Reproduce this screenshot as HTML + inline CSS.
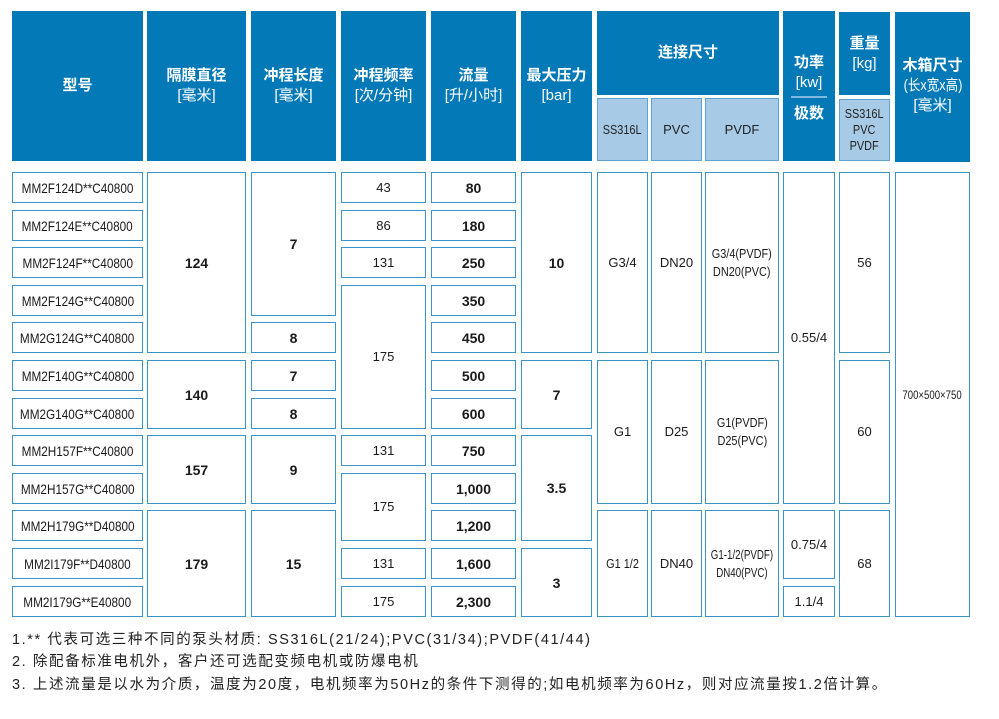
<!DOCTYPE html>
<html><head><meta charset="utf-8"><style>
body{margin:0;width:999px;height:719px;background:#fff;position:relative;overflow:hidden;font-family:"Liberation Sans","Noto Sans CJK SC",sans-serif;color:#1a1a1a}
.h{position:absolute;background:#0379b8;color:#fff;font-weight:bold;font-size:15px;display:flex;flex-direction:column;align-items:center;justify-content:center;text-align:center;line-height:20px}
.h span{font-weight:normal}
.s{position:absolute;background:#a7cbe7;border:1px solid #5fa3d3;box-sizing:border-box;color:#222;font-size:13px;display:flex;align-items:center;justify-content:center;text-align:center;line-height:16px}
.b{position:absolute;box-sizing:border-box;border:1.5px solid #3a93c9;display:flex;align-items:center;justify-content:center;text-align:center;font-size:13px;line-height:18px;white-space:nowrap}
.c{display:inline-block;transform:scaleX(.84);transform-origin:center}
.m{font-size:14px}
.bd{font-weight:bold;font-size:14px}
.n{position:absolute;left:12px;font-size:14.5px;color:#222;letter-spacing:1.6px;white-space:nowrap}
</style></head><body>
<div class="h" style="left:12px;top:11px;width:131px;height:150px">型号</div>
<div class="h" style="left:147px;top:11px;width:99px;height:150px">隔膜直径<span>[毫米]</span></div>
<div class="h" style="left:251px;top:11px;width:85px;height:150px">冲程长度<span>[毫米]</span></div>
<div class="h" style="left:341px;top:11px;width:85px;height:150px">冲程频率<span>[次/分钟]</span></div>
<div class="h" style="left:431px;top:11px;width:85px;height:150px">流量<span>[升/小时]</span></div>
<div class="h" style="left:521px;top:11px;width:71px;height:150px">最大压力<span>[bar]</span></div>
<div class="h" style="left:597px;top:11px;width:182px;height:84px">连接尺寸</div>
<div class="s" style="left:597px;top:98px;width:51px;height:63px"><span class="c">SS316L</span></div>
<div class="s" style="left:651px;top:98px;width:51px;height:63px">PVC</div>
<div class="s" style="left:705px;top:98px;width:74px;height:63px">PVDF</div>
<div class="h" style="left:783px;top:11px;width:52px;height:150px;justify-content:flex-start"><div style="margin-top:42px">功率</div><span>[kw]</span><div style="width:36px;height:2px;background:#7fb8de;margin:3px 0 6px"></div><div>极数</div></div>
<div class="h" style="left:839px;top:12px;width:51px;height:83px">重量<span>[kg]</span></div>
<div class="s" style="left:839px;top:99px;width:51px;height:62px;font-size:13px;line-height:16px"><span class="c">SS316L<br>PVC<br>PVDF</span></div>
<div class="h" style="left:895px;top:12px;width:75px;height:150px;justify-content:flex-start"><div style="margin-top:44px">木箱尺寸</div><span class="c">(长x宽x高)</span><span>[毫米]</span></div>

<div class="b m" style="left:12px;top:172px;width:131px;height:31px"><span class="c">MM2F124D**C40800</span></div>
<div class="b m" style="left:12px;top:210px;width:131px;height:31px"><span class="c">MM2F124E**C40800</span></div>
<div class="b m" style="left:12px;top:247px;width:131px;height:31px"><span class="c">MM2F124F**C40800</span></div>
<div class="b m" style="left:12px;top:285px;width:131px;height:31px"><span class="c">MM2F124G**C40800</span></div>
<div class="b m" style="left:12px;top:322px;width:131px;height:31px"><span class="c">MM2G124G**C40800</span></div>
<div class="b m" style="left:12px;top:360px;width:131px;height:31px"><span class="c">MM2F140G**C40800</span></div>
<div class="b m" style="left:12px;top:398px;width:131px;height:31px"><span class="c">MM2G140G**C40800</span></div>
<div class="b m" style="left:12px;top:435px;width:131px;height:31px"><span class="c">MM2H157F**C40800</span></div>
<div class="b m" style="left:12px;top:473px;width:131px;height:31px"><span class="c">MM2H157G**C40800</span></div>
<div class="b m" style="left:12px;top:510px;width:131px;height:31px"><span class="c">MM2H179G**D40800</span></div>
<div class="b m" style="left:12px;top:548px;width:131px;height:31px"><span class="c">MM2I179F**D40800</span></div>
<div class="b m" style="left:12px;top:586px;width:131px;height:31px"><span class="c">MM2I179G**E40800</span></div>

<div class="b bd" style="left:147px;top:172px;width:99px;height:181px">124</div>
<div class="b bd" style="left:147px;top:360px;width:99px;height:69px">140</div>
<div class="b bd" style="left:147px;top:435px;width:99px;height:69px">157</div>
<div class="b bd" style="left:147px;top:510px;width:99px;height:107px">179</div>

<div class="b bd" style="left:251px;top:172px;width:85px;height:144px">7</div>
<div class="b bd" style="left:251px;top:322px;width:85px;height:31px">8</div>
<div class="b bd" style="left:251px;top:360px;width:85px;height:31px">7</div>
<div class="b bd" style="left:251px;top:398px;width:85px;height:31px">8</div>
<div class="b bd" style="left:251px;top:435px;width:85px;height:69px">9</div>
<div class="b bd" style="left:251px;top:510px;width:85px;height:107px">15</div>

<div class="b" style="left:341px;top:172px;width:85px;height:31px">43</div>
<div class="b" style="left:341px;top:210px;width:85px;height:31px">86</div>
<div class="b" style="left:341px;top:247px;width:85px;height:31px">131</div>
<div class="b" style="left:341px;top:285px;width:85px;height:144px">175</div>
<div class="b" style="left:341px;top:435px;width:85px;height:31px">131</div>
<div class="b" style="left:341px;top:473px;width:85px;height:68px">175</div>
<div class="b" style="left:341px;top:548px;width:85px;height:31px">131</div>
<div class="b" style="left:341px;top:586px;width:85px;height:31px">175</div>

<div class="b bd" style="left:431px;top:172px;width:85px;height:31px">80</div>
<div class="b bd" style="left:431px;top:210px;width:85px;height:31px">180</div>
<div class="b bd" style="left:431px;top:247px;width:85px;height:31px">250</div>
<div class="b bd" style="left:431px;top:285px;width:85px;height:31px">350</div>
<div class="b bd" style="left:431px;top:322px;width:85px;height:31px">450</div>
<div class="b bd" style="left:431px;top:360px;width:85px;height:31px">500</div>
<div class="b bd" style="left:431px;top:398px;width:85px;height:31px">600</div>
<div class="b bd" style="left:431px;top:435px;width:85px;height:31px">750</div>
<div class="b bd" style="left:431px;top:473px;width:85px;height:31px">1,000</div>
<div class="b bd" style="left:431px;top:510px;width:85px;height:31px">1,200</div>
<div class="b bd" style="left:431px;top:548px;width:85px;height:31px">1,600</div>
<div class="b bd" style="left:431px;top:586px;width:85px;height:31px">2,300</div>

<div class="b bd" style="left:521px;top:172px;width:71px;height:181px">10</div>
<div class="b bd" style="left:521px;top:360px;width:71px;height:69px">7</div>
<div class="b bd" style="left:521px;top:435px;width:71px;height:106px">3.5</div>
<div class="b bd" style="left:521px;top:548px;width:71px;height:69px">3</div>

<div class="b" style="left:597px;top:172px;width:51px;height:181px">G3/4</div>
<div class="b" style="left:651px;top:172px;width:51px;height:181px">DN20</div>
<div class="b" style="left:705px;top:172px;width:74px;height:181px"><span class="c">G3/4(PVDF)<br>DN20(PVC)</span></div>
<div class="b" style="left:597px;top:360px;width:51px;height:144px">G1</div>
<div class="b" style="left:651px;top:360px;width:51px;height:144px">D25</div>
<div class="b" style="left:705px;top:360px;width:74px;height:144px"><span class="c">G1(PVDF)<br>D25(PVC)</span></div>
<div class="b" style="left:597px;top:510px;width:51px;height:107px"><span class="c">G1 1/2</span></div>
<div class="b" style="left:651px;top:510px;width:51px;height:107px">DN40</div>
<div class="b" style="left:705px;top:510px;width:74px;height:107px;font-size:12.5px"><span class="c" style="transform:scaleX(.78)">G1-1/2(PVDF)<br>DN40(PVC)</span></div>

<div class="b" style="left:783px;top:172px;width:52px;height:332px">0.55/4</div>
<div class="b" style="left:783px;top:510px;width:52px;height:69px">0.75/4</div>
<div class="b" style="left:783px;top:586px;width:52px;height:31px">1.1/4</div>

<div class="b" style="left:839px;top:172px;width:51px;height:181px">56</div>
<div class="b" style="left:839px;top:360px;width:51px;height:144px">60</div>
<div class="b" style="left:839px;top:510px;width:51px;height:107px">68</div>

<div class="b" style="left:895px;top:172px;width:75px;height:445px;font-size:12px"><span class="c" style="transform:scaleX(.8)">700×500×750</span></div>

<div class="n" style="top:628px">1.** 代表可选三种不同的泵头材质: SS316L(21/24);PVC(31/34);PVDF(41/44)</div>
<div class="n" style="top:650px">2. 除配备标准电机外，客户还可选配变频电机或防爆电机</div>
<div class="n" style="top:673px">3. 上述流量是以水为介质，温度为20度，电机频率为50Hz的条件下测得的;如电机频率为60Hz，则对应流量按1.2倍计算。</div>
</body></html>
